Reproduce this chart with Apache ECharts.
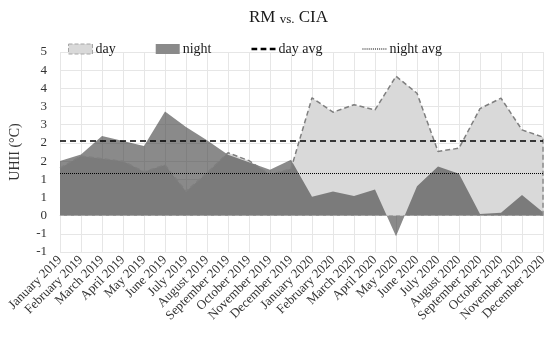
<!DOCTYPE html>
<html><head><meta charset="utf-8">
<script src="https://cdn.jsdelivr.net/npm/echarts@6/dist/echarts.min.js"></script>
<style>html,body{margin:0;padding:0;background:#fff}#c{width:550px;height:338px}</style>
</head><body><div id="c"></div>
<script>
const categories = ['January 2019','February 2019','March 2019','April 2019','May 2019','June 2019','July 2019','August 2019','September 2019','October 2019','November 2019','December 2019','January 2020','February 2020','March 2020','April 2020','May 2020','June 2020','July 2020','August 2020','September 2020','October 2020','November 2020','December 2020'];
const dayValues = [1.45,1.82,1.74,1.66,1.34,1.55,0.74,1.30,1.92,1.68,1.25,1.43,3.60,3.16,3.39,3.23,4.26,3.74,1.96,2.06,3.27,3.59,2.62,2.40];
const nightValues = [1.67,1.87,2.43,2.28,2.13,3.18,2.71,2.30,1.86,1.63,1.40,1.71,0.58,0.74,0.60,0.80,-0.63,0.90,1.50,1.28,0.05,0.09,0.63,0.10];
const dayAvg = 2.30;
const nightAvg = 1.31;
const yStep = 5/9;

const FONT = 'Liberation Serif';
const chart = echarts.init(document.getElementById('c'), null, {renderer:'canvas'});
const lastCat = categories[categories.length-1];
const lastDay = dayValues[dayValues.length-1];

chart.setOption({
  animation:false,
  textStyle:{fontFamily:FONT},
  title:{
    text:'{a|RM }{b|vs.}{a| CIA}',
    left:244, top:4,
    textStyle:{fontWeight:'normal',rich:{
      a:{fontFamily:FONT,fontSize:17,fontWeight:'normal',color:'#1a1a1a'},
      b:{fontFamily:FONT,fontSize:13,fontWeight:'normal',color:'#1a1a1a',verticalAlign:'bottom'}
    }}
  },
  legend:{
    left:63, top:37, itemWidth:24, itemHeight:10, itemGap:40,
    textStyle:{fontFamily:FONT,fontSize:14,color:'#1a1a1a',padding:[0,0,0,-2]},
    data:[
      {name:'day', icon:'rect', itemStyle:{color:'#d9d9d9',borderColor:'#a6a6a6',borderWidth:1,borderType:'dashed'}},
      {name:'night', icon:'rect', itemStyle:{color:'#8a8a8a',borderWidth:0}},
      {name:'day avg', icon:'path://M0,4h5v2h-5z M8,4h5v2h-5z M16,4h5v2h-5z', itemStyle:{color:'#000'}},
      {name:'night avg', icon:'path://M0,4h1v1h-1z M2,4h1v1h-1z M4,4h1v1h-1z M6,4h1v1h-1z M8,4h1v1h-1z M10,4h1v1h-1z M12,4h1v1h-1z M14,4h1v1h-1z M16,4h1v1h-1z M18,4h1v1h-1z M20,4h1v1h-1z M22,4h1v1h-1z', itemStyle:{color:'#000'}}
    ]
  },
  grid:{left:58,right:7,top:52,bottom:86},
  xAxis:{
    type:'category', data:categories, boundaryGap:false,
    axisLine:{lineStyle:{color:'#d9d9d9'}},
    axisTick:{show:false},
    splitLine:{show:true,interval:0,lineStyle:{color:'#e6e6e6'}},
    axisLabel:{interval:0,rotate:45,fontFamily:FONT,fontSize:13,color:'#333',margin:6}
  },
  yAxis:{
    type:'value', min:-2*yStep, max:9*yStep, interval:yStep,
    name:'UHII (°C)', nameLocation:'middle', nameGap:38, nameRotate:90,
    nameTextStyle:{fontFamily:FONT,fontSize:14,color:'#333'},
    axisLine:{show:false}, axisTick:{show:false},
    splitLine:{lineStyle:{color:'#e6e6e6'}},
    axisLabel:{fontFamily:FONT,fontSize:13,color:'#333',margin:13,
      formatter:v=>String(Math.round(v)).replace('-0','0')}
  },
  series:[
    {name:'day', type:'line', data:dayValues, symbol:'none', lineStyle:{width:0},
     areaStyle:{color:'#d9d9d9',opacity:1}, silent:true},
    {name:'night', type:'line', data:nightValues, symbol:'none', lineStyle:{width:0},
     areaStyle:{color:'rgba(60,60,60,0.6)',opacity:1}, silent:true,
     markLine:{silent:true,symbol:'none',label:{show:false},
       lineStyle:{color:'#a6a6a6',type:[4,3],width:1},
       data:[{yAxis:0}]}},
    {name:'day', type:'line', data:dayValues, symbol:'none',
     lineStyle:{color:'#7f7f7f',width:1.5,type:[5,3]}, silent:true,
     markLine:{silent:true,symbol:'none',label:{show:false},
       lineStyle:{color:'#8c8c8c',type:[5,3],width:1.5},
       data:[[{coord:[lastCat,0]},{coord:[lastCat,lastDay]}]]}},
    {name:'day avg', type:'line', data:[], symbol:'none',
     markLine:{silent:true,symbol:'none',label:{show:false},
       lineStyle:{color:'#000',type:[6,4],width:1.5},data:[{yAxis:dayAvg}]}},
    {name:'night avg', type:'line', data:[], symbol:'none',
     markLine:{silent:true,symbol:'none',label:{show:false},
       lineStyle:{color:'#000',type:[1,1],width:1},data:[{yAxis:nightAvg}]}}
  ]
});
</script></body></html>
